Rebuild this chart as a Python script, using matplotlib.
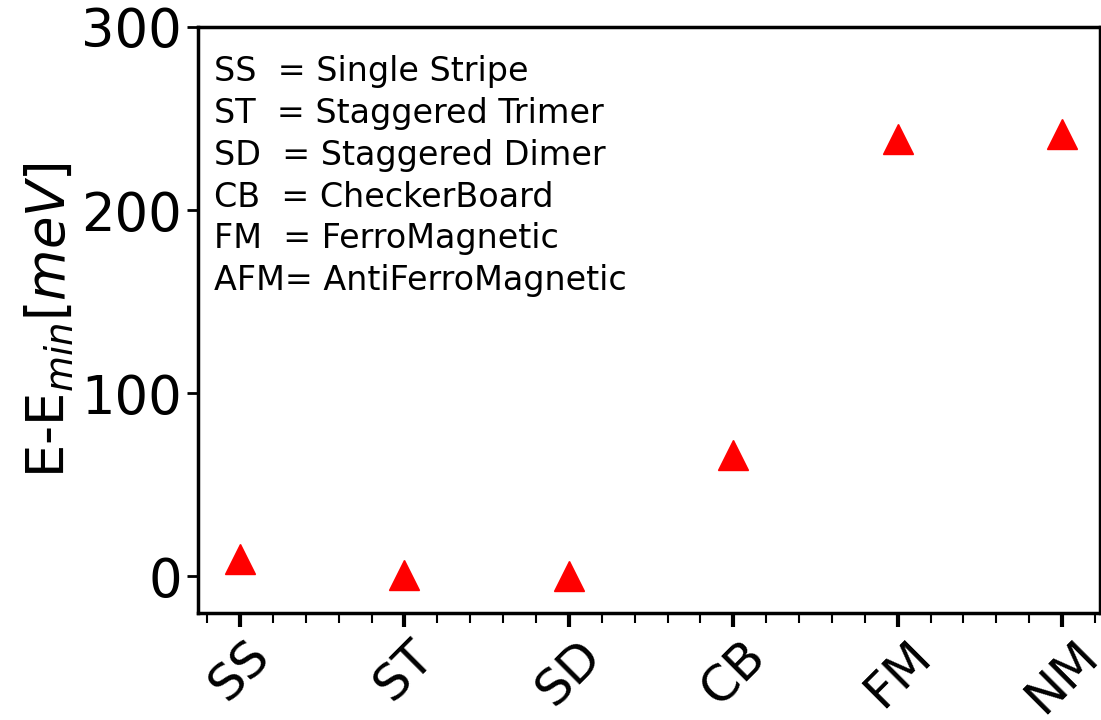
import matplotlib
matplotlib.use("Agg")
import matplotlib.pyplot as plt
from matplotlib.ticker import MultipleLocator

# magnetic configurations and relative energies (meV)
configs = ["SS", "ST", "SD", "CB", "FM", "NM"]
energies = [9.5, 0.5, 0.3, 66, 239, 241.5]

legend_txt = ("SS  = Single Stripe\n"
              "ST  = Staggered Trimer\n"
              "SD  = Staggered Dimer\n"
              "CB  = CheckerBoard\n"
              "FM  = FerroMagnetic\n"
              "AFM= AntiFerroMagnetic")

plt.rcParams['font.family'] = ['DejaVu Sans']

fig = plt.figure(figsize=(11.01, 7.2), dpi=100)
ax = fig.add_axes([0.18, 0.149, 0.819, 0.8135])

x = list(range(len(configs)))
ax.plot(x, energies, linestyle="none", marker="^", color="red", markersize=22)

ax.set_xlim(-0.255, 5.23)
ax.set_ylim(-20, 300)
ax.set_yticks([0, 100, 200, 300])
ax.set_xticks(x)
ax.set_xticklabels(configs, rotation=45, fontsize=36)
ax.xaxis.set_minor_locator(MultipleLocator(0.2))
ax.tick_params(axis="y", labelsize=38, width=2, length=8)
ax.tick_params(axis="x", which="major", width=3, length=10)
ax.tick_params(axis="x", which="minor", width=1.5, length=7)

for s in ax.spines.values():
    s.set_linewidth(2.5)

ax.set_ylabel("E-E$_{min}$[$meV$]", fontsize=38, labelpad=4)

ax.text(0.018, 0.952, legend_txt, transform=ax.transAxes, fontsize=24,
        va="top", ha="left", linespacing=1.34)

fig.savefig("out.png", dpi=100)
